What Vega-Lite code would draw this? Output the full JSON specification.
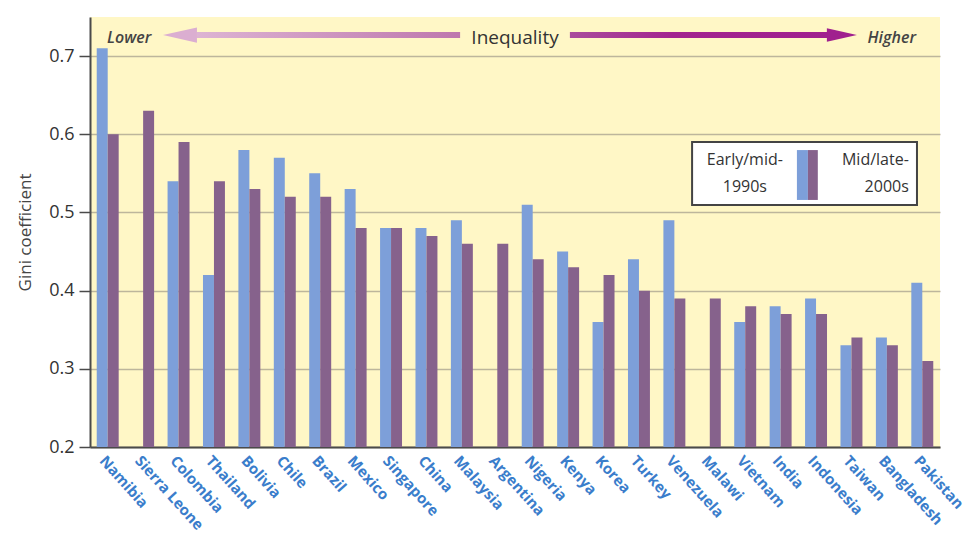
{
  "$schema": "https://vega.github.io/schema/vega-lite/v6.json",
  "width": 850,
  "height": 430,
  "padding": {"left": 16, "top": 17, "right": 5, "bottom": 0},
  "autosize": {"type": "pad"},
  "background": "white",
  "config": {"view": {"fill": "#FFF7C6", "stroke": null}, "font": "Open Sans"},
  "datasets": {
    "gini": [
      {"country": "Namibia", "period": "Early/mid-1990s", "gini": 0.71},
      {"country": "Namibia", "period": "Mid/late-2000s", "gini": 0.60},
      {"country": "Sierra Leone", "period": "Mid/late-2000s", "gini": 0.63},
      {"country": "Colombia", "period": "Early/mid-1990s", "gini": 0.54},
      {"country": "Colombia", "period": "Mid/late-2000s", "gini": 0.59},
      {"country": "Thailand", "period": "Early/mid-1990s", "gini": 0.42},
      {"country": "Thailand", "period": "Mid/late-2000s", "gini": 0.54},
      {"country": "Bolivia", "period": "Early/mid-1990s", "gini": 0.58},
      {"country": "Bolivia", "period": "Mid/late-2000s", "gini": 0.53},
      {"country": "Chile", "period": "Early/mid-1990s", "gini": 0.57},
      {"country": "Chile", "period": "Mid/late-2000s", "gini": 0.52},
      {"country": "Brazil", "period": "Early/mid-1990s", "gini": 0.55},
      {"country": "Brazil", "period": "Mid/late-2000s", "gini": 0.52},
      {"country": "Mexico", "period": "Early/mid-1990s", "gini": 0.53},
      {"country": "Mexico", "period": "Mid/late-2000s", "gini": 0.48},
      {"country": "Singapore", "period": "Early/mid-1990s", "gini": 0.48},
      {"country": "Singapore", "period": "Mid/late-2000s", "gini": 0.48},
      {"country": "China", "period": "Early/mid-1990s", "gini": 0.48},
      {"country": "China", "period": "Mid/late-2000s", "gini": 0.47},
      {"country": "Malaysia", "period": "Early/mid-1990s", "gini": 0.49},
      {"country": "Malaysia", "period": "Mid/late-2000s", "gini": 0.46},
      {"country": "Argentina", "period": "Mid/late-2000s", "gini": 0.46},
      {"country": "Nigeria", "period": "Early/mid-1990s", "gini": 0.51},
      {"country": "Nigeria", "period": "Mid/late-2000s", "gini": 0.44},
      {"country": "Kenya", "period": "Early/mid-1990s", "gini": 0.45},
      {"country": "Kenya", "period": "Mid/late-2000s", "gini": 0.43},
      {"country": "Korea", "period": "Early/mid-1990s", "gini": 0.36},
      {"country": "Korea", "period": "Mid/late-2000s", "gini": 0.42},
      {"country": "Turkey", "period": "Early/mid-1990s", "gini": 0.44},
      {"country": "Turkey", "period": "Mid/late-2000s", "gini": 0.40},
      {"country": "Venezuela", "period": "Early/mid-1990s", "gini": 0.49},
      {"country": "Venezuela", "period": "Mid/late-2000s", "gini": 0.39},
      {"country": "Malawi", "period": "Mid/late-2000s", "gini": 0.39},
      {"country": "Vietnam", "period": "Early/mid-1990s", "gini": 0.36},
      {"country": "Vietnam", "period": "Mid/late-2000s", "gini": 0.38},
      {"country": "India", "period": "Early/mid-1990s", "gini": 0.38},
      {"country": "India", "period": "Mid/late-2000s", "gini": 0.37},
      {"country": "Indonesia", "period": "Early/mid-1990s", "gini": 0.39},
      {"country": "Indonesia", "period": "Mid/late-2000s", "gini": 0.37},
      {"country": "Taiwan", "period": "Early/mid-1990s", "gini": 0.33},
      {"country": "Taiwan", "period": "Mid/late-2000s", "gini": 0.34},
      {"country": "Bangladesh", "period": "Early/mid-1990s", "gini": 0.34},
      {"country": "Bangladesh", "period": "Mid/late-2000s", "gini": 0.33},
      {"country": "Pakistan", "period": "Early/mid-1990s", "gini": 0.41},
      {"country": "Pakistan", "period": "Mid/late-2000s", "gini": 0.31}
    ]
  },
  "layer": [
    {
      "data": {"name": "gini"},
      "mark": {"type": "bar"},
      "encoding": {
        "x": {
          "field": "country", "type": "nominal", "sort": null,
          "scale": {"paddingInner": 0.38, "paddingOuter": 0.19},
          "axis": {"title": null, "labelAngle": 48, "labelAlign": "left", "labelBaseline": "top",
            "labelFont": "Open Sans", "labelFontWeight": "bold", "labelFontSize": 15, "labelColor": "#3A7DCB",
            "ticks": false, "labelPadding": 6, "domainColor": "#4A4A4A", "domainWidth": 2, "grid": false}
        },
        "xOffset": {"field": "period", "type": "nominal", "sort": ["Early/mid-1990s", "Mid/late-2000s"],
          "scale": {"paddingInner": 0, "paddingOuter": 0}},
        "y": {
          "field": "gini", "type": "quantitative",
          "scale": {"domain": [0.2, 0.75], "nice": false, "zero": false},
          "axis": {"title": "Gini coefficient", "values": [0.2, 0.3, 0.4, 0.5, 0.6, 0.7], "format": ".1f",
            "labelFontSize": 18, "labelColor": "#333333", "tickSize": 11, "tickColor": "#4A4A4A", "tickWidth": 1.5,
            "labelPadding": 5, "domainColor": "#4A4A4A", "domainWidth": 2, "gridColor": "#BDB69C", "gridWidth": 1.5,
            "titleFontSize": 17, "titleFontWeight": "normal", "titleColor": "#444444", "titlePadding": 14}
        },
        "y2": {"datum": 0.2},
        "color": {"field": "period", "type": "nominal",
          "scale": {"domain": ["Early/mid-1990s", "Mid/late-2000s"], "range": ["#7D9FD9", "#86628C"]},
          "legend": null}
      }
    },
    {
      "data": {"values": [{}]},
      "mark": {"type": "rect", "fill": "white", "stroke": "#444444", "strokeWidth": 2},
      "encoding": {
        "x": {"datum": 17.0, "type": "quantitative", "scale": {"domain": [0, 24], "nice": false}, "axis": null},
        "x2": {"datum": 23.35},
        "y": {"datum": 0.59, "type": "quantitative"},
        "y2": {"datum": 0.5095}
      }
    },
    {
      "data": {"values": [{}]},
      "mark": {"type": "rect", "fill": "#7D9FD9"},
      "encoding": {
        "x": {"datum": 19.96, "type": "quantitative", "scale": {"domain": [0, 24], "nice": false}, "axis": null},
        "x2": {"datum": 20.27},
        "y": {"datum": 0.5798, "type": "quantitative"},
        "y2": {"datum": 0.516}
      }
    },
    {
      "data": {"values": [{}]},
      "mark": {"type": "rect", "fill": "#86628C"},
      "encoding": {
        "x": {"datum": 20.27, "type": "quantitative", "scale": {"domain": [0, 24], "nice": false}, "axis": null},
        "x2": {"datum": 20.55},
        "y": {"datum": 0.5798, "type": "quantitative"},
        "y2": {"datum": 0.516}
      }
    },
    {
      "data": {"values": [{"label": "Early/mid-\n1990s"}]},
      "mark": {"type": "text", "lineBreak": "\n", "align": "center", "baseline": "middle", "fontSize": 16, "color": "#333333", "lineHeight": 27},
      "encoding": {
        "x": {"datum": 18.49, "type": "quantitative", "scale": {"domain": [0, 24], "nice": false}, "axis": null},
        "y": {"datum": 0.5665, "type": "quantitative"},
        "text": {"field": "label"}
      }
    },
    {
      "data": {"values": [{"label": "Mid/late-\n2000s"}]},
      "mark": {"type": "text", "lineBreak": "\n", "align": "right", "baseline": "middle", "fontSize": 16, "color": "#333333", "lineHeight": 27},
      "encoding": {
        "x": {"datum": 23.12, "type": "quantitative", "scale": {"domain": [0, 24], "nice": false}, "axis": null},
        "y": {"datum": 0.5665, "type": "quantitative"},
        "text": {"field": "label"}
      }
    },
    {
      "data": {"values": [{"label": "Lower"}]},
      "mark": {"type": "text", "align": "left", "baseline": "middle", "fontSize": 16, "fontStyle": "italic", "fontWeight": 600, "color": "#444444"},
      "encoding": {
        "x": {"datum": 0.48, "type": "quantitative", "scale": {"domain": [0, 24], "nice": false}, "axis": null},
        "y": {"datum": 0.723, "type": "quantitative"},
        "text": {"field": "label"}
      }
    },
    {
      "data": {"values": [{"label": "Inequality"}]},
      "mark": {"type": "text", "align": "center", "baseline": "middle", "fontSize": 19, "color": "#333333"},
      "encoding": {
        "x": {"datum": 12.0, "type": "quantitative", "scale": {"domain": [0, 24], "nice": false}, "axis": null},
        "y": {"datum": 0.723, "type": "quantitative"},
        "text": {"field": "label"}
      }
    },
    {
      "data": {"values": [{"label": "Higher"}]},
      "mark": {"type": "text", "align": "right", "baseline": "middle", "fontSize": 16, "fontStyle": "italic", "fontWeight": 600, "color": "#444444"},
      "encoding": {
        "x": {"datum": 23.32, "type": "quantitative", "scale": {"domain": [0, 24], "nice": false}, "axis": null},
        "y": {"datum": 0.723, "type": "quantitative"},
        "text": {"field": "label"}
      }
    },
    {
      "data": {"values": [{}]},
      "mark": {"type": "rect", "fill": {"gradient": "linear", "stops": [{"offset": 0, "color": "#DDB4D3"}, {"offset": 1, "color": "#BE77AD"}]}},
      "encoding": {
        "x": {"datum": 3.0, "type": "quantitative", "scale": {"domain": [0, 24], "nice": false}, "axis": null},
        "x2": {"datum": 10.45},
        "y": {"datum": 0.7231, "type": "quantitative"},
        "y2": {"datum": 0.7307}
      }
    },
    {
      "data": {"values": [{}]},
      "mark": {"type": "point", "shape": "M -1 0 L 1 -0.45 L 1 0.45 Z", "filled": true, "size": 1156, "color": "#DBAED1", "opacity": 1, "strokeWidth": 0},
      "encoding": {
        "x": {"datum": 2.54, "type": "quantitative", "scale": {"domain": [0, 24], "nice": false}, "axis": null},
        "y": {"datum": 0.7269, "type": "quantitative"}
      }
    },
    {
      "data": {"values": [{}]},
      "mark": {"type": "rect", "fill": {"gradient": "linear", "stops": [{"offset": 0, "color": "#AA4C9C"}, {"offset": 0.4, "color": "#A3248F"}, {"offset": 1, "color": "#A0208E"}]}},
      "encoding": {
        "x": {"datum": 13.55, "type": "quantitative", "scale": {"domain": [0, 24], "nice": false}, "axis": null},
        "x2": {"datum": 20.82},
        "y": {"datum": 0.7231, "type": "quantitative"},
        "y2": {"datum": 0.7307}
      }
    },
    {
      "data": {"values": [{}]},
      "mark": {"type": "point", "shape": "M 1 0 L -1 -0.45 L -1 0.45 Z", "filled": true, "size": 900, "color": "#A0208E", "opacity": 1, "strokeWidth": 0},
      "encoding": {
        "x": {"datum": 21.23, "type": "quantitative", "scale": {"domain": [0, 24], "nice": false}, "axis": null},
        "y": {"datum": 0.7269, "type": "quantitative"}
      }
    }
  ],
  "resolve": {"scale": {"x": "independent"}}
}
